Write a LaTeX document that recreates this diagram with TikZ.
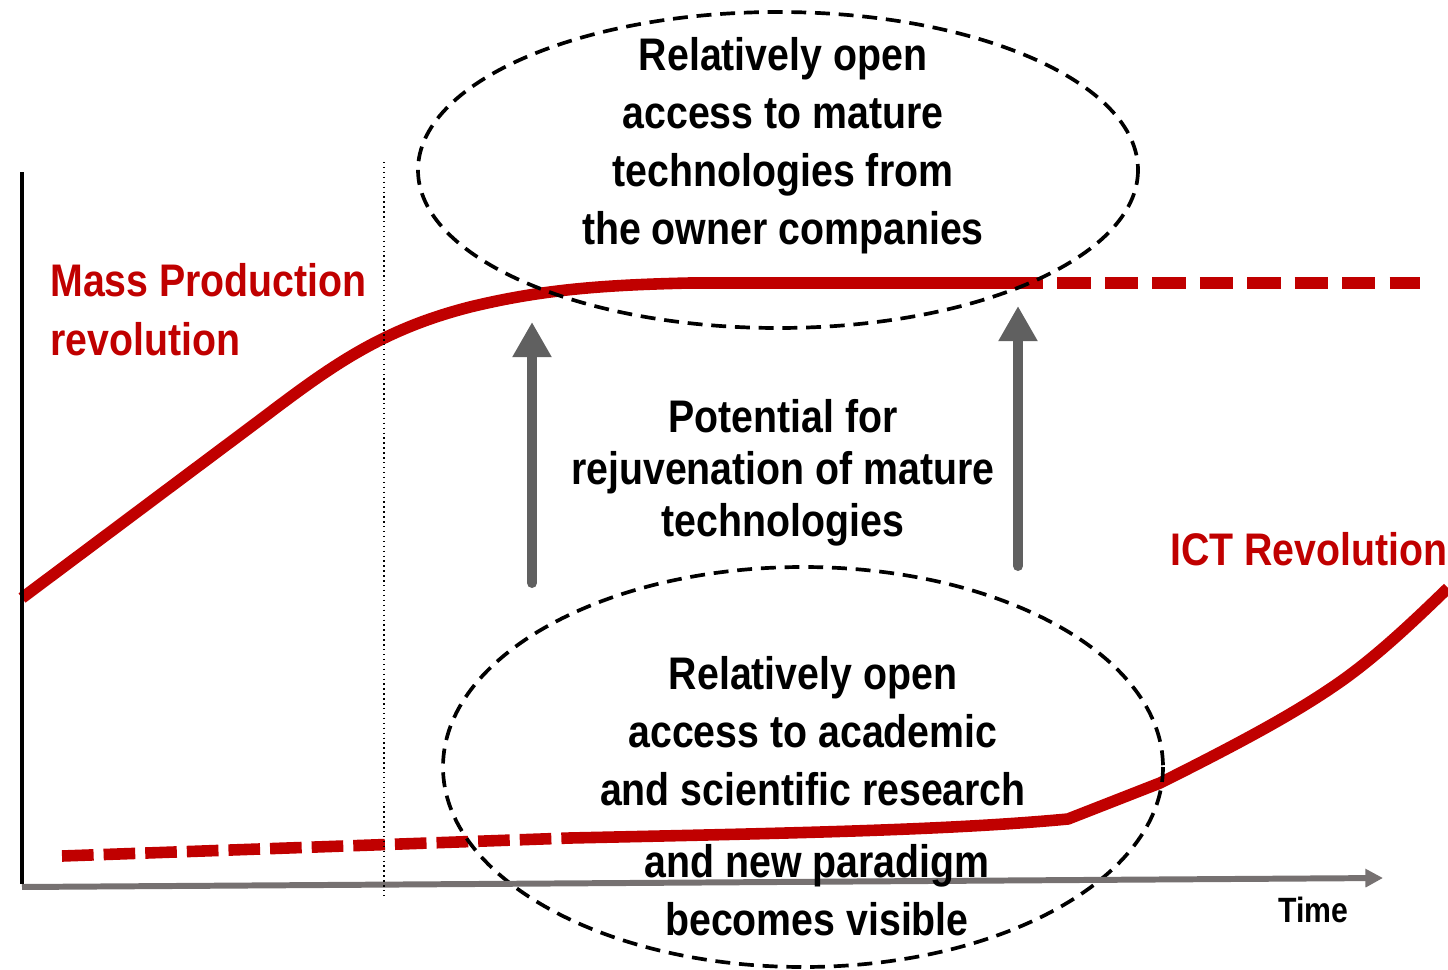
\documentclass[tikz,border=0pt]{standalone}
\usepackage{fontspec}
\setmainfont{Liberation Sans}[FakeStretch=0.86]
\usepackage{xcolor}
\usepackage{tikz}
\usetikzlibrary{arrows.meta}
\definecolor{revred}{HTML}{C00000}
\definecolor{axisgray}{HTML}{767171}
\definecolor{pushgray}{HTML}{606060}

\begin{document}
\begin{tikzpicture}[x=0.02cm,y=-0.02cm]
    % `wave' is the red curve of a revolution, `wavetail' its dashed part.
    % `bubble' is the dashed ellipse round a text.
    % `push' is used for the two grey arrows going up.
    \tikzstyle{wave} = [draw=revred,line width=6.6pt,line join=round]
    \tikzstyle{wavetail} = [draw=revred,line width=6.6pt,dash pattern=on 19pt off 8pt]
    \tikzstyle{bubble} = [draw=black,line width=2.1pt,dash pattern=on 8.5pt off 5pt]
    \tikzstyle{push} = [draw=pushgray,line width=5.7pt,line cap=round,
        -{Triangle[length=20pt,width=21pt,line cap=butt]}]
    \tikzstyle{caption} = [font=\bfseries\fontsize{26pt}{33pt}\selectfont,inner sep=0pt,align=center]
    \tikzstyle{revlabel} = [caption,text=revred,align=left,anchor=north west,
        font=\bfseries\fontsize{26pt}{33.5pt}\selectfont]
    %
    \useasboundingbox (0,0) rectangle (1448,970);
    %
    % Mass production curve, then its dashed tail.
    \draw[wave] (22,598) -- (260,420) .. controls (330,367) and (380,330) .. (470,307)
        .. controls (540,290) and (600,285) .. (690,283) -- (1010,283);
    \draw[wavetail] (1010,283) -- (1420,283);
    % ICT curve, dashed at first.
    \draw[wavetail,dash pattern=on 18pt off 5.7pt] (62,856) -- (570,838);
    \draw[wave] (570,838) .. controls (800,833) and (950,830) .. (1068,819)
        -- (1160,783) .. controls (1250,738) and (1300,710) .. (1340,682)
        .. controls (1380,654) and (1420,615) .. (1448,588);
    %
    % Dashed ellipses.
    \draw[bubble] (778,170) ellipse [x radius=360, y radius=158];
    \draw[bubble] (803,767) ellipse [x radius=360, y radius=200];
    %
    % Axes and the dotted divider.
    \coordinate (origin) at (22,884);
    \coordinate (top) at (22,172);
    \coordinate (timeend) at (1383,878);
    \draw[black,line width=2.3pt] (origin) -- (top);
    \draw[axisgray,line width=3.4pt,-{Triangle[length=10pt,width=10pt]}] (22,887) -- (timeend);
    \draw[dotted,line width=0.8pt] (384,162) -- (384,896);
    %
    % Texts.
    \node[caption] (mature) at (783,146)
        {Relatively open\\access to mature\\technologies from\\the owner companies};
    \node[caption,font=\bfseries\fontsize{26pt}{29.6pt}\selectfont] (potential) at (783,473)
        {Potential for\\rejuvenation of mature\\technologies};
    \node[caption] (academic) at (813,731)
        {Relatively open\\access to academic\\and scientific research};
    \node[caption] (paradigm) at (817,890) {and new paradigm\\becomes visible};
    \node[revlabel] (massprod) at (50,263) {Mass Production\\revolution};
    \node[revlabel] (ict) at (1170,532) {ICT Revolution};
    \node[caption,font=\bfseries\fontsize{20pt}{24pt}\selectfont,anchor=north west] (time) at (1278,897) {Time};
    %
    % Arrows going up.
    \coordinate (riseL) at (532,583);
    \coordinate (tipL) at (532,322);
    \coordinate (riseR) at (1018,566);
    \coordinate (tipR) at (1018,306);
    \draw[push] (riseL) -- (tipL);
    \draw[push] (riseR) -- (tipR);
\end{tikzpicture}
\end{document}
